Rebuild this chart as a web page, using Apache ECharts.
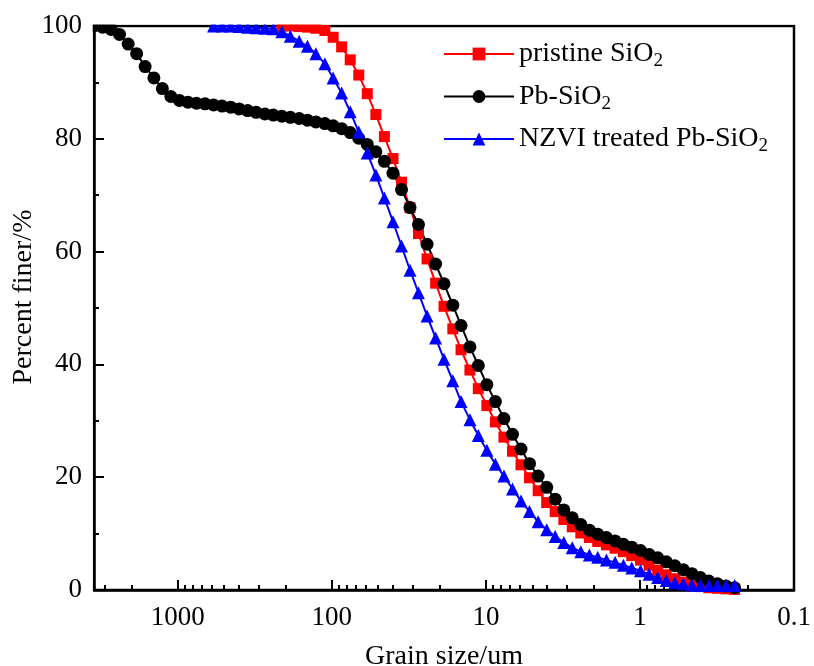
<!DOCTYPE html>
<html><head><meta charset="utf-8">
<script src="https://cdn.jsdelivr.net/npm/echarts@6/dist/echarts.min.js"></script>
<style>html,body{margin:0;padding:0;background:#fff}#c{width:814px;height:666px}</style>
</head><body><div id="c"></div>
<script>
// Grain size classes (um), coarse to fine
const sizes = [3500, 3080, 2710, 2390, 2100, 1850, 1630, 1430, 1260, 1110,
  976, 859, 756, 666, 586, 516, 454, 400, 352, 310,
  272, 240, 211, 186, 163, 144, 127, 111, 98.1, 86.4,
  76.0, 66.9, 58.9, 51.8, 45.6, 40.1, 35.3, 31.1, 27.4, 24.1,
  21.2, 18.7, 16.4, 14.5, 12.7, 11.2, 9.86, 8.68, 7.64, 6.72,
  5.92, 5.21, 4.58, 4.03, 3.55, 3.12, 2.75, 2.42, 2.13, 1.88,
  1.65, 1.45, 1.28, 1.13, 0.991, 0.872, 0.767, 0.675, 0.594, 0.523,
  0.460, 0.405, 0.357, 0.314, 0.276, 0.243];

// Percent finer for each series (null = no point)
const pristineSiO2 = [null, null, null, null, null, null, null, null, null, null,
  null, null, null, null, null, null, null, null, null, null,
  null, null, 100, 100, 99.9, 99.8, 99.6, 99.2, 98.0, 96.3,
  94.0, 91.3, 88.0, 84.3, 80.4, 76.5, 72.3, 67.8, 63.2, 58.7,
  54.4, 50.3, 46.3, 42.6, 39.0, 35.7, 32.7, 29.8, 27.1, 24.6,
  22.2, 19.9, 17.6, 15.5, 13.9, 12.5, 11.2, 10.1, 9.3, 8.6,
  8.0, 7.4, 6.8, 6.1, 5.3, 4.4, 3.5, 2.7, 2.0, 1.4,
  0.9, 0.6, 0.4, 0.3, 0.2, 0.1];

const pbSiO2 = [100, 99.8, 99.4, 98.5, 96.8, 95.1, 92.8, 90.8, 88.9, 87.5,
  86.8, 86.5, 86.3, 86.2, 86.0, 85.8, 85.6, 85.3, 85.0, 84.7,
  84.4, 84.2, 84.0, 83.8, 83.6, 83.3, 83.0, 82.7, 82.3, 81.8,
  81.1, 80.1, 79.0, 77.7, 76.0, 73.9, 71.0, 67.8, 64.8, 61.3,
  57.8, 54.3, 50.5, 46.9, 43.1, 39.8, 36.4, 33.4, 30.4, 27.6,
  25.0, 22.4, 20.2, 18.2, 16.1, 14.2, 12.8, 11.6, 10.6, 9.9,
  9.3, 8.7, 8.1, 7.6, 7.0, 6.3, 5.7, 5.0, 4.3, 3.6,
  2.9, 2.2, 1.6, 1.1, 0.7, 0.4];

const nzviPbSiO2 = [null, null, null, null, null, null, null, null, null, null,
  null, null, null, null, 100, 100, 100, 99.9, 99.8, 99.7,
  99.6, 99.5, 99.0, 98.2, 97.3, 96.4, 95.1, 93.3, 90.8, 88.1,
  84.8, 81.2, 77.5, 73.6, 69.5, 65.3, 61.0, 56.7, 52.7, 48.6,
  44.7, 40.9, 37.1, 33.4, 30.2, 27.4, 24.8, 22.3, 20.2, 17.9,
  15.8, 13.9, 12.1, 10.7, 9.5, 8.4, 7.5, 6.8, 6.2, 5.8,
  5.3, 4.9, 4.4, 3.9, 3.4, 2.8, 2.2, 1.7, 1.3, 1.1,
  0.9, 0.8, 0.8, 0.8, 0.8, 0.8];

const seriesNames = ['pristine SiO2', 'Pb-SiO2', 'NZVI treated Pb-SiO2'];
const xMajorTicks = [1000, 100, 10, 1, 0.1];
const xMinorTicks = [3000, 2000, 900, 800, 700, 600, 500, 400, 300, 200,
  90, 80, 70, 60, 50, 40, 30, 20, 9, 8, 7, 6, 5, 4, 3, 2,
  0.9, 0.8, 0.7, 0.6, 0.5, 0.4, 0.3, 0.2];

function pairs(vals) {
  const out = [];
  vals.forEach((v, i) => { if (v !== null) out.push([sizes[i], v]); });
  return out;
}

const FONT = 'Liberation Serif';
const chart = echarts.init(document.getElementById('c'), null, {renderer: 'canvas'});

function mkSeries(name, vals, color, symbol, size) {
  return {
    name: name, type: 'line', data: pairs(vals), xAxisIndex: 0, yAxisIndex: 0,
    symbol: symbol, symbolSize: size, showSymbol: true, showAllSymbol: true,
    lineStyle: {color: color, width: 2},
    itemStyle: {color: color, borderWidth: 0},
    emphasis: {disabled: true}, silent: true, z: 2
  };
}

function fmt(v) { return v >= 1 ? String(Math.round(v)) : String(+v.toPrecision(1)); }

chart.setOption({
  animation: false,
  backgroundColor: '#fff',
  grid: {left: 94, right: 20, top: 26, bottom: 76, show: true, borderColor: '#000', borderWidth: 2.5,
    backgroundColor: 'transparent', containLabel: false, outerBoundsMode: 'none'},
  legend: {
    orient: 'vertical', left: 438, top: 35, itemWidth: 70, itemHeight: 16, itemGap: 11.5,
    selectedMode: false, data: seriesNames,
    formatter: function (name) { return '{n|' + name.slice(0, -1) + '}{s|2}'; },
    textStyle: {
      color: '#000', fontFamily: FONT, fontSize: 28,
      rich: {
        n: {fontFamily: FONT, fontSize: 28, lineHeight: 34, color: '#000'},
        s: {fontFamily: FONT, fontSize: 19, lineHeight: 14, verticalAlign: 'bottom', color: '#000'}
      }
    }
  },
  // white masks outside the plot frame so edge markers appear clipped as in the original
  graphic: [
    {type: 'rect', z: 50, silent: true, shape: {x: 84, y: 0, width: 730, height: 24.6}, style: {fill: '#fff'}},
    {type: 'rect', z: 50, silent: true, shape: {x: 84, y: 0, width: 8.7, height: 600}, style: {fill: '#fff'}}
  ],
  xAxis: [{
    type: 'log', logBase: 10, min: 0.1, max: 3500, inverse: true, position: 'bottom',
    axisLine: {onZero: false, lineStyle: {color: '#000', width: 2.5}},
    axisTick: {show: true, inside: true, length: 10, customValues: xMajorTicks, lineStyle: {color: '#000', width: 2}},
    axisLabel: {customValues: xMajorTicks, color: '#000', fontFamily: FONT, fontSize: 27, margin: 14, formatter: fmt},
    splitLine: {show: false},
    name: 'Grain size/um', nameLocation: 'middle', nameGap: 53,
    nameTextStyle: {color: '#000', fontFamily: FONT, fontSize: 28}
  }, {
    type: 'log', logBase: 10, min: 0.1, max: 3500, inverse: true, position: 'bottom',
    axisLine: {show: false, onZero: false},
    axisTick: {show: true, inside: true, length: 5, customValues: xMinorTicks, lineStyle: {color: '#000', width: 2}},
    axisLabel: {show: false},
    splitLine: {show: false}
  }],
  yAxis: {
    type: 'value', min: 0, max: 100, interval: 20,
    axisLine: {show: true, onZero: false, lineStyle: {color: '#000', width: 2.5}},
    axisTick: {show: true, inside: true, length: 10, lineStyle: {color: '#000', width: 2}},
    minorTick: {show: true, splitNumber: 2, length: 5, lineStyle: {color: '#000', width: 2}},
    axisLabel: {color: '#000', fontFamily: FONT, fontSize: 27, margin: 12},
    splitLine: {show: false},
    name: 'Percent finer/%', nameLocation: 'middle', nameGap: 56, nameRotate: 90, nameMoveOverlap: false,
    nameTextStyle: {color: '#000', fontFamily: FONT, fontSize: 28, padding: [0, 0, 0, 22]}
  },
  series: [
    mkSeries(seriesNames[0], pristineSiO2, '#ff0000', 'rect', 11),
    mkSeries(seriesNames[1], pbSiO2, '#000000', 'circle', 13),
    mkSeries(seriesNames[2], nzviPbSiO2, '#0000ff', 'triangle', 13)
  ]
});
</script>
</body></html>
